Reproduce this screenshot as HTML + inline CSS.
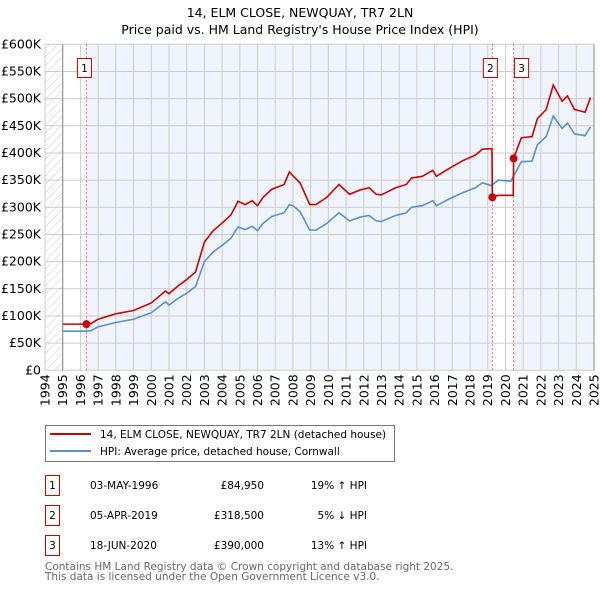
<!DOCTYPE html>
<html><head><meta charset="utf-8"><style>
body{margin:0;background:#fff;font-family:"DejaVu Sans","Liberation Sans",sans-serif;}
svg text{font-family:"DejaVu Sans","Liberation Sans",sans-serif;}
</style></head><body>
<svg id="chart" width="600" height="590" xmlns="http://www.w3.org/2000/svg">
<text x="300" y="17" font-size="12.5" text-anchor="middle">14, ELM CLOSE, NEWQUAY, TR7 2LN</text>
<text x="300" y="34" font-size="12.5" text-anchor="middle">Price paid vs. HM Land Registry's House Price Index (HPI)</text>
<defs><pattern id="hatch" width="6" height="6" patternUnits="userSpaceOnUse" patternTransform="rotate(45)"><line x1="0" y1="0" x2="0" y2="6" stroke="#ccc" stroke-width="1"/></pattern></defs>
<g id="plot"></g>
<g>
<rect x="45.5" y="425.5" width="349" height="36" fill="#fff" stroke="#777"/>
<line x1="50" y1="434" x2="91" y2="434" stroke="#cc0000" stroke-width="2"/>
<text x="100" y="438" font-size="10.5">14, ELM CLOSE, NEWQUAY, TR7 2LN (detached house)</text>
<line x1="50" y1="451" x2="91" y2="451" stroke="#5b8fd0" stroke-width="2"/>
<text x="100" y="455" font-size="10.5">HPI: Average price, detached house, Cornwall</text>
</g>
<g font-size="10.5">
<rect x="45.5" y="475.5" width="14" height="20" fill="none" stroke="#cc0000"/><text x="52.5" y="489" text-anchor="middle">1</text>
<text x="90" y="489">03-MAY-1996</text><text x="264" y="489" text-anchor="end">£84,950</text><text x="367" y="489" text-anchor="end">19% ↑ HPI</text>
<rect x="45.5" y="505.5" width="14" height="20" fill="none" stroke="#cc0000"/><text x="52.5" y="519" text-anchor="middle">2</text>
<text x="90" y="519">05-APR-2019</text><text x="264" y="519" text-anchor="end">£318,500</text><text x="367" y="519" text-anchor="end">5% ↓ HPI</text>
<rect x="45.5" y="535.5" width="14" height="20" fill="none" stroke="#cc0000"/><text x="52.5" y="549" text-anchor="middle">3</text>
<text x="90" y="549">18-JUN-2020</text><text x="264" y="549" text-anchor="end">£390,000</text><text x="367" y="549" text-anchor="end">13% ↑ HPI</text>
</g>
<text x="45" y="570" font-size="10.5" fill="#666">Contains HM Land Registry data © Crown copyright and database right 2025.</text>
<text x="45" y="580" font-size="10.5" fill="#666">This data is licensed under the Open Government Licence v3.0.</text>
</svg>
<script>
const dates=[1995.0,1996.3,1996.6,1997,1998,1999,2000,2000.8,2001.0,2001.5,2002,2002.5,2003,2003.5,2004,2004.5,2004.9,2005.3,2005.7,2006.0,2006.3,2006.8,2007.5,2007.8,2008.0,2008.4,2008.95,2009.3,2009.9,2010.6,2011.2,2011.8,2012.3,2012.7,2013.0,2013.8,2014.4,2014.7,2015.3,2015.9,2016.1,2016.8,2017.6,2018.3,2018.7,2019.2,2019.6,2020.3,2020.9,2021.5,2021.8,2022.3,2022.7,2023.2,2023.5,2023.9,2024.5,2024.8];
const hpiValues=[72,72,73,80,88,94,106,126,120,132,142,154,200,218,230,243,264,259,265,257,270,283,290,305,303,292,258,258,270,290,275,282,285,275,274,285,290,300,303,312,303,315,327,336,345,340,350,348,384,385,415,430,468,445,455,435,432,448];
const saleDates=[1996.34,2019.26,2020.46];
const salePrices=[84.95,318.5,390];
const propDates=[1995.0,1996.34,1996.6,1997,1998,1999,2000,2000.8,2001.0,2001.5,2002,2002.5,2003,2003.5,2004,2004.5,2004.9,2005.3,2005.7,2006.0,2006.3,2006.8,2007.5,2007.8,2008.0,2008.4,2008.95,2009.3,2009.9,2010.6,2011.2,2011.8,2012.3,2012.7,2013.0,2013.8,2014.4,2014.7,2015.3,2015.9,2016.1,2016.8,2017.6,2018.3,2018.7,2019.24,2019.26,2019.6,2020.44,2020.46,2020.9,2021.5,2021.8,2022.3,2022.7,2023.2,2023.5,2023.9,2024.5,2024.8];
const propValues=[85,85,86,94,104,110,124,146,141,155,167,181,236,257,271,286,311,305,312,303,318,333,342,365,358,345,305,305,318,342,324,332,336,324,323,336,342,354,357,368,357,371,386,396,407,408,318.5,322,322,390,428,430,463,480,525,495,505,480,475,502];
const yTicks=[0,50,100,150,200,250,300,350,400,450,500,550,600];
const yLabels=["£0","£50K","£100K","£150K","£200K","£250K","£300K","£350K","£400K","£450K","£500K","£550K","£600K"];
const xYears=[1994,1995,1996,1997,1998,1999,2000,2001,2002,2003,2004,2005,2006,2007,2008,2009,2010,2011,2012,2013,2014,2015,2016,2017,2018,2019,2020,2021,2022,2023,2024,2025];
const X0=45,X1=594,Y0=370.3,Y1=44.3;
const xs=t=>X0+(t-1994)/(2025-1994)*(X1-X0);
const ys=v=>Y0-v/600*(Y0-Y1);
const NS="http://www.w3.org/2000/svg";
const g=document.getElementById('plot');
function mk(tag,attrs,parent){const e=document.createElementNS(NS,tag);for(const k in attrs)e.setAttribute(k,attrs[k]);(parent||g).appendChild(e);return e;}
let r=mk('rect',{x:X0,y:Y1,width:X1-X0,height:Y0-Y1,fill:'#fff'});


r=mk('rect',{x:xs(saleDates[0]),y:Y1,width:xs(saleDates[1])-xs(saleDates[0]),height:Y0-Y1,fill:'#f0f4fc'});


r=mk('rect',{x:xs(saleDates[2]),y:Y1,width:X1-xs(saleDates[2]),height:Y0-Y1,fill:'#f0f4fc'});


r=mk('rect',{x:X0,y:Y1,width:xs(1995)-X0,height:Y0-Y1,fill:'url(#hatch)'});


yTicks.forEach((v,i)=>{
 const l=mk('line',{x1:X0,x2:X1,y1:ys(v),y2:ys(v),stroke:'#ccc','stroke-width':1});
 
 
 const t=mk('text',{x:X0-4,y:ys(v)+4,'font-size':12.5,'text-anchor':'end'});
 
 
 t.textContent=yLabels[i];
});
xYears.forEach(yr=>{
 const l=mk('line',{x1:xs(yr),x2:xs(yr),y1:Y1,y2:Y0,stroke:'#ccc','stroke-width':1});
 
 
 const t=mk('text',{x:0,y:0,'font-size':12.5,'text-anchor':'end',transform:`translate(${xs(yr)+4.5},${Y0+4}) rotate(-90)`});
 
 
 t.textContent=yr;
});
let ax=mk('line',{x1:xs(1995),x2:xs(1995),y1:Y1,y2:Y0,stroke:'#888'});


ax=mk('line',{x1:X1,x2:X1,y1:Y1,y2:Y0,stroke:'#888'});


saleDates.forEach((d,i)=>{
 const l=mk('line',{x1:xs(d),x2:xs(d),y1:Y1,y2:Y0,stroke:'#ff6666','stroke-dasharray':'2,2'});
 
 
});
let p=mk('polyline',{points:dates.map((d,i)=>xs(d)+','+ys(hpiValues[i])).join(' '),fill:'none',stroke:'#5b8fd0','stroke-width':1.6});


p=mk('polyline',{points:propDates.map((d,i)=>xs(d)+','+ys(propValues[i])).join(' '),fill:'none',stroke:'#cc0000','stroke-width':1.6});


const boxX=[xs(saleDates[0])-9,xs(saleDates[1])-9,xs(saleDates[2])+1];
saleDates.forEach((d,i)=>{
 const c=mk('circle',{cx:xs(d),cy:ys(salePrices[i]),r:4,fill:'#cc0000'});
 
 
 const b=mk('rect',{x:boxX[i],y:58.5,width:14,height:19,fill:'#fff',stroke:'#cc0000'});
 
 
 const t=mk('text',{x:boxX[i]+7,y:72,'font-size':10.5,'text-anchor':'middle'});
 
 
 t.textContent=String(i+1);
});
</script>
</body></html>
